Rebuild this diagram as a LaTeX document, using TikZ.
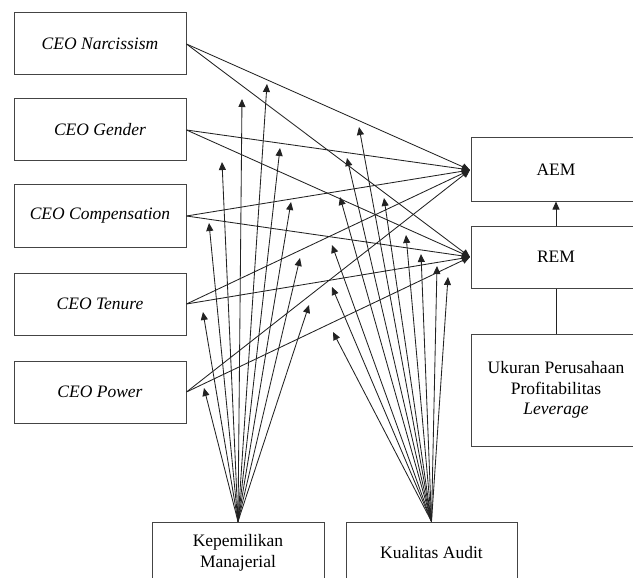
\documentclass[tikz,border=0pt]{standalone}
\usepackage{fontspec}
\setmainfont{Liberation Serif}
\usetikzlibrary{arrows.meta}
\definecolor{boxc}{HTML}{444444}
\definecolor{linec}{HTML}{222222}
\begin{document}
\begin{tikzpicture}[x=1pt,y=-1pt,
  box/.style={draw=boxc, line width=1pt, minimum width=172pt, minimum height=62pt,
    inner sep=0pt, align=center, font=\fontsize{17.5}{20.5}\selectfont},
  lnk/.style={draw=linec, line width=0.85pt},
  arr/.style={lnk, -{Triangle[length=8pt,width=7pt]}}]
\useasboundingbox (0,0) rectangle (633,578);
\clip (0,0) rectangle (633,578);
% left boxes
\node[box] (nar)  at (100,44)  {\itshape CEO Narcissism};
\node[box] (gen)  at (100,130) {\itshape CEO Gender};
\node[box] (comp) at (100,216) {\itshape CEO Compensation};
\node[box] (ten)  at (100,304) {\itshape CEO Tenure};
\node[box] (pow)  at (100,392) {\itshape CEO Power};
% right boxes
\node[box, minimum width=170pt, minimum height=63pt] (aem) at (556,169.5) {AEM};
\node[box, minimum width=170pt] (rem) at (556,257) {REM};
\node[box, minimum width=170pt, minimum height=112pt] (uk) at (556,390)
  {Ukuran Perusahaan\\Profitabilitas\\\textit{Leverage}};
% bottom boxes
\node[box] (kep) at (238,553) {Kepemilikan\\Manajerial};
\node[box, minimum width=171pt] (kua) at (431.5,553) {Kualitas Audit};
% targets
\coordinate (aemIn) at (470,170);
\coordinate (remIn) at (470,257);
\foreach \s in {nar,gen,comp,ten,pow}{
  \draw[arr] (\s.east) -- (aemIn);
  \draw[arr] (\s.east) -- (remIn);
}
\draw[arr] (rem.north) -- (aem.south);
\draw[lnk] (rem.south) -- (uk.north);
% moderation tips from Kepemilikan Manajerial
\coordinate (k1) at (242,99);
\coordinate (k2) at (267,84);
\coordinate (k3) at (280,148);
\coordinate (k4) at (222,162);
\coordinate (k5) at (209,223);
\coordinate (k6) at (291,202);
\coordinate (k7) at (300,258);
\coordinate (k8) at (203,312);
\coordinate (k9) at (309,305);
\coordinate (k10) at (204,388);
\foreach \t in {k1,k2,k3,k4,k5,k6,k7,k8,k9,k10}{
  \draw[arr] (kep.north) -- (\t);
}
% moderation tips from Kualitas Audit
\coordinate (q1) at (359,127);
\coordinate (q2) at (347,158);
\coordinate (q3) at (340,197);
\coordinate (q4) at (384,198);
\coordinate (q5) at (406,235);
\coordinate (q6) at (421,254);
\coordinate (q7) at (437,266);
\coordinate (q8) at (448,277);
\coordinate (q9) at (332,245);
\coordinate (q10) at (332,287);
\coordinate (q11) at (333,332);
\foreach \t in {q1,q2,q3,q4,q5,q6,q7,q8,q9,q10,q11}{
  \draw[arr] (kua.north) -- (\t);
}
\end{tikzpicture}
\end{document}
